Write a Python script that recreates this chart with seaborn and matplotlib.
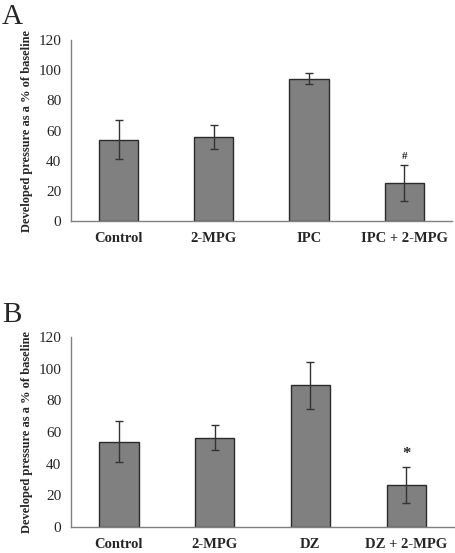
import numpy as np
import pandas as pd
import matplotlib
matplotlib.use("Agg")
import matplotlib.pyplot as plt
import seaborn as sns

# panel A data
groups_a = ["Control", "2-MPG", "IPC", "IPC + 2-MPG"]
means_a = [54, 56, 94.5, 25]
errs_a = [13, 8, 3.5, 12]
mark_a = ["", "", "", "#"]

# panel B data
groups_b = ["Control", "2-MPG", "DZ", "DZ + 2-MPG"]
means_b = [54, 56.5, 89.5, 26.5]
errs_b = [13, 8, 15, 11.5]
mark_b = ["", "", "", "*"]

yticks = [0, 20, 40, 60, 80, 100, 120]

sns.set_style("white")
plt.rcParams["font.family"] = ["Liberation Serif", "DejaVu Serif"]

fig = plt.figure(figsize=(4.55, 5.53), dpi=100)
ax_a = fig.add_axes([0.156, 0.6004, 0.837, 0.327])
ax_b = fig.add_axes([0.156, 0.047, 0.842, 0.3436])

GRAY = "#808080"


def draw_panel(ax, groups, means, errs, marks):
    df = pd.DataFrame({"group": groups, "value": means})
    sns.barplot(data=df, x="group", y="value", ax=ax, color=GRAY,
                saturation=1, width=0.41, edgecolor="#2b2b2b", linewidth=1,
                errorbar=None)
    ax.errorbar(np.arange(len(groups)), means, yerr=errs, fmt="none",
                ecolor="#333333", elinewidth=1, capsize=3, capthick=1)
    for i, m in enumerate(marks):
        if m:
            ax.text(i, means[i] + errs[i] + 3, m, ha="center", va="bottom",
                    fontsize=12 if m == "*" else 8, fontweight="bold")

    ax.set_xlim(-0.5, len(groups) - 0.5)
    ax.set_ylim(0, 120)
    ax.set_yticks(yticks)
    ax.set_yticklabels([str(t) for t in yticks], fontsize=11)

    # boundary ticks below the axis, labels at the bar centres
    ax.set_xticks(np.arange(len(groups) + 1) - 0.5)
    ax.set_xticklabels([])
    ax.set_xticks(np.arange(len(groups)), minor=True)
    ax.set_xticklabels(groups, minor=True, fontsize=10.5, fontweight="bold")
    ax.tick_params(axis="x", which="major", direction="out", length=4,
                   color=GRAY, width=1)
    ax.tick_params(axis="x", which="minor", length=0, pad=8)
    ax.tick_params(axis="y", direction="out", length=4, color=GRAY,
                   width=1, pad=3)

    for side in ["top", "right"]:
        ax.spines[side].set_visible(False)
    for side in ["left", "bottom"]:
        ax.spines[side].set_color(GRAY)
        ax.spines[side].set_linewidth(1)

    ax.set_xlabel("")
    ax.set_ylabel("Developed pressure as a % of baseline", fontsize=9,
                  fontweight="bold")
    ax.yaxis.set_label_coords(-0.10, 0.5)
    return ax


draw_panel(ax_a, groups_a, means_a, errs_a, mark_a)
draw_panel(ax_b, groups_b, means_b, errs_b, mark_b)

fig.text(0.004, 1 - 24 / 553, "A", fontsize=21, va="baseline", ha="left")
fig.text(0.004, 1 - 322 / 553, "B", fontsize=21, va="baseline", ha="left")

fig.savefig("out.png", dpi=100)
